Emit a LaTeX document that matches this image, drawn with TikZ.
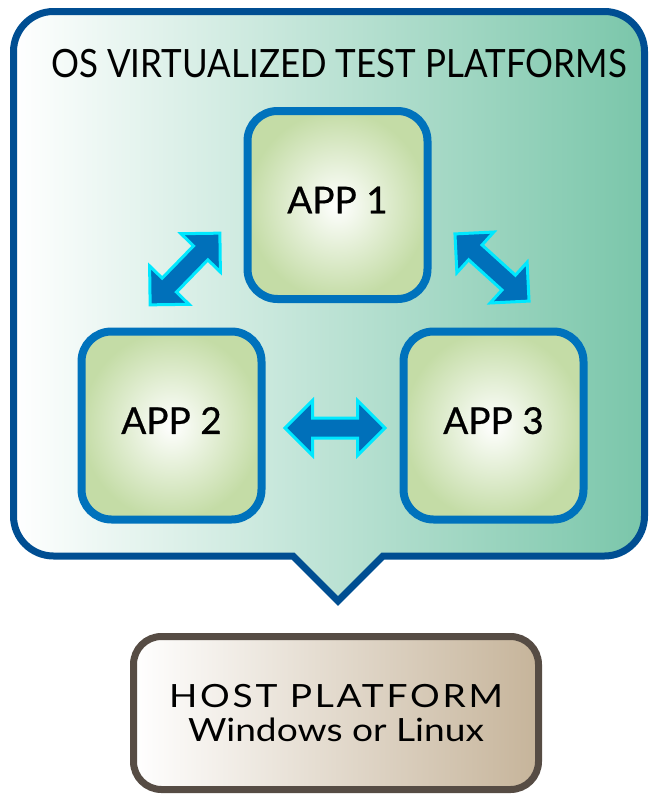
\documentclass[tikz,border=0pt]{standalone}
\usepackage{fontspec}
\setmainfont{Lato}
\usetikzlibrary{shapes.arrows}
\definecolor{outerblue}{RGB}{0,78,146}
\definecolor{tealR}{RGB}{122,198,170}
\definecolor{tealM}{RGB}{200,233,221}
\definecolor{appblue}{RGB}{0,114,188}
\definecolor{appgreen}{RGB}{196,220,166}
\definecolor{arrowblue}{RGB}{0,112,186}
\definecolor{arrowcyan}{RGB}{0,232,255}
\definecolor{hostgray}{RGB}{86,76,68}
\definecolor{hosttan}{RGB}{198,180,154}
\definecolor{hostmid}{RGB}{232,222,210}
\begin{document}
\begin{tikzpicture}[x=1pt,y=-1pt,
  appbox/.style={rectangle, rounded corners=30pt, draw=appblue, line width=8pt,
    inner color=white, outer color=appgreen, minimum width=180pt, minimum height=188pt,
    text depth=10pt, font=\fontsize{37}{40}\selectfont\addfontfeatures{FakeBold=0.6}},
  dblarrow/.style={double arrow, draw=arrowcyan, fill=arrowblue, line width=3pt,
    inner sep=8.5pt, minimum height=100pt, double arrow head extend=17.5pt},
  hostbox/.style={rectangle, rounded corners=28pt, draw=hostgray, line width=7pt,
    left color=white, middle color=hostmid, right color=hosttan,
    minimum width=405pt, minimum height=153pt, align=center,
    font=\fontsize{32}{34}\selectfont}]
\useasboundingbox (0,0) rectangle (651,798);
\path[draw=outerblue, line width=7pt, line join=miter, left color=white, middle color=tealM, right color=tealR]
 (53.5,11.5) -- (604.5,11.5) .. controls (626.6,11.5) and (644.5,29.6) .. (644.5,51.5)
 -- (644.5,516) .. controls (644.5,538.1) and (626.6,556) .. (604.5,556)
 -- (383,556) -- (338,601) -- (293,556) -- (53.5,556)
 .. controls (31.4,556) and (13.5,538.1) .. (13.5,516)
 -- (13.5,51.5) .. controls (13.5,29.6) and (31.4,11.5) .. (53.5,11.5) -- cycle;
\node[font=\fontsize{39}{40}\selectfont, anchor=base] (title) at (339,77) {\scalebox{0.896}[1]{OS VIRTUALIZED TEST PLATFORMS}};
\node[appbox] (app1) at (337.5,205) {APP 1};
\node[appbox] (app2) at (171.5,425.5) {APP 2};
\node[appbox] (app3) at (493.5,425.5) {APP 3};
\node[dblarrow, rotate=45.8] (a12) at (185,269) {};
\node[dblarrow, rotate=-42.2] (a13) at (492,267.5) {};
\node[dblarrow] (a23) at (335,428) {};
\node[hostbox] (host) at (336,713) {\scalebox{1.16}[1]{\addfontfeatures{LetterSpace=7.4}HOST PLATFORM}\\\scalebox{1.16}[1]{Windows or Linux}};
\end{tikzpicture}
\end{document}
